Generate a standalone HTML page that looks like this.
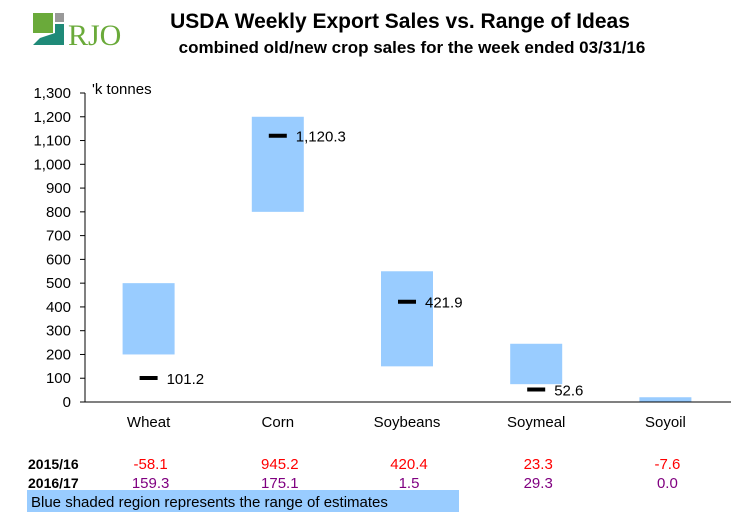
<!DOCTYPE html>
<html><head><meta charset="utf-8"><style>
body{margin:0;background:#fff;font-family:"Liberation Sans",Arial,sans-serif}
svg text{font-family:"Liberation Sans",Arial,sans-serif}
</style></head><body>
<svg id="c" width="756" height="516" viewBox="0 0 756 516" xmlns="http://www.w3.org/2000/svg">
<g>
<rect x="33" y="13" width="20" height="20" fill="#6aaa3a"/>
<rect x="55" y="13" width="9" height="9" fill="#999"/>
<polygon points="33,45 64,45 64,24 55,24 55,33 40,38" fill="#1f8a78"/>
<text x="68" y="45" font-family="Liberation Serif,serif" font-size="30" fill="#6aaa3a" style="font-family:'Liberation Serif',serif">RJO</text>
</g>
<text x="400" y="28" text-anchor="middle" font-size="21" font-weight="bold">USDA Weekly Export Sales vs. Range of Ideas</text>
<text x="412" y="53" text-anchor="middle" font-size="17" font-weight="bold">combined old/new crop sales for the week ended 03/31/16</text>
<text x="92" y="94" font-size="15">'k tonnes</text>
<g id="plot"></g>
<g id="table"></g>
<rect x="27" y="490" width="432" height="22" fill="#99ccff"/>
<text x="31" y="507" font-size="15">Blue shaded region represents the range of estimates</text>
</svg>
<script>
const categories=["Wheat","Corn","Soybeans","Soymeal","Soyoil"];
const rangeLow=[200,800,150,75,0];
const rangeHigh=[500,1200,550,245,20];
const actual=[101.2,1120.3,421.9,52.6,null];
const actualLabels=["101.2","1,120.3","421.9","52.6",""];
const old1516=["-58.1","945.2","420.4","23.3","-7.6"];
const new1617=["159.3","175.1","1.5","29.3","0.0"];
const yTicks=[0,100,200,300,400,500,600,700,800,900,1000,1100,1200,1300];
const NS="http://www.w3.org/2000/svg";
const x0=85,x1=731,y0=402,y1=93,yMax=1300;
const y=v=>y0-(v/yMax)*(y0-y1);
const bw=(x1-x0)/categories.length;
const xc=i=>x0+bw*(i+0.5)-1;
const plot=document.getElementById('plot'),table=document.getElementById('table');
function mk(t,a,p){const e=document.createElementNS(NS,t);for(const k in a)e.setAttribute(k,a[k]);p.appendChild(e);return e;}
yTicks.forEach(v=>{
 const t=mk('line',{x1:x0-5,x2:x0,y1:y(v),y2:y(v),stroke:'#000'},plot);
 
 
 const l=mk('text',{x:x0-14,y:y(v)+5,'text-anchor':'end','font-size':15},plot);
 l.textContent=v.toLocaleString('en-US');
 
 
});
categories.forEach((c,i)=>{
 const r=mk('rect',{x:xc(i)-26,y:y(rangeHigh[i]),width:52,height:y(rangeLow[i])-y(rangeHigh[i]),fill:'#99ccff'},plot);
 
 
 if(actual[i]!==null){
  const m=mk('line',{x1:xc(i)-9,x2:xc(i)+9,y1:y(actual[i]),y2:y(actual[i]),stroke:'#000','stroke-width':4},plot);
  
  
  const t=mk('text',{x:xc(i)+18,y:y(actual[i])+6,'font-size':15},plot);
  t.textContent=actualLabels[i];
  
  
 }
 const cl=mk('text',{x:xc(i),y:427,'text-anchor':'middle','font-size':15},plot);
 cl.textContent=c;
 
 
 const a=mk('text',{x:xc(i)+2,y:469,'text-anchor':'middle','font-size':15,fill:'#ff0000'},table);
 a.textContent=old1516[i];
 
 
 const b=mk('text',{x:xc(i)+2,y:488,'text-anchor':'middle','font-size':15,fill:'#800080'},table);
 b.textContent=new1617[i];
 
 
});
const ya=mk('line',{x1:x0,x2:x0,y1:y1,y2:y0,stroke:'#000'},plot);


const xa=mk('line',{x1:x0,x2:x1,y1:y0,y2:y0,stroke:'#000'},plot);


[["2015/16",469],["2016/17",488]].forEach(([t,yy])=>{
 const e=mk('text',{x:28,y:yy,'font-size':14,'font-weight':'bold'},table);
 e.textContent=t;
 
 
});
</script>
</body></html>
